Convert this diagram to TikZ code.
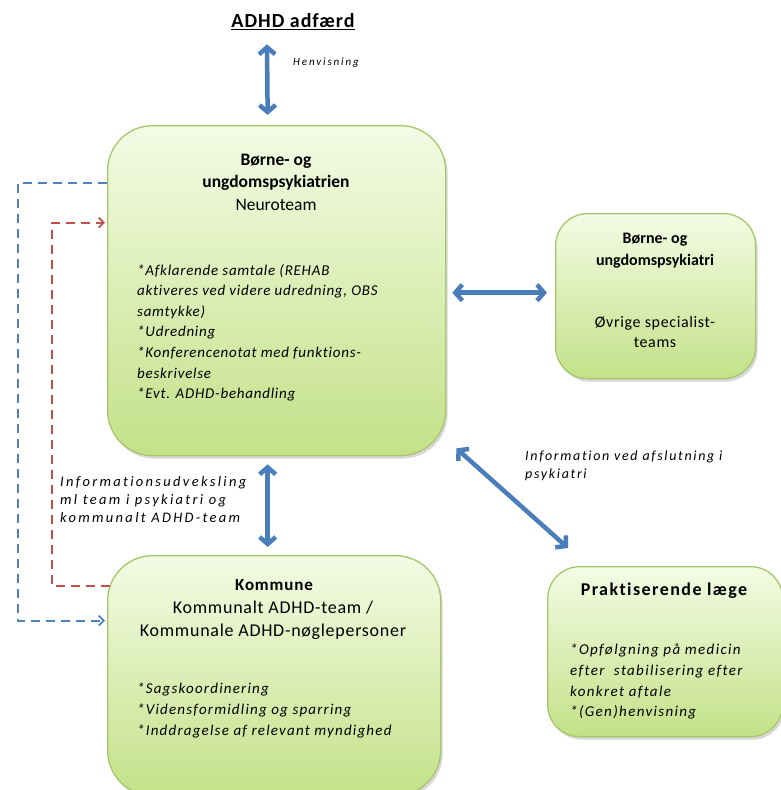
\documentclass[tikz,border=0pt]{standalone}
\usepackage{fontspec}
\setmainfont{Carlito}[Ligatures=NoCommon]
\usetikzlibrary{arrows.meta,shadows}
\definecolor{boxtop}{HTML}{F4FBE4}
\definecolor{boxbot}{HTML}{C3E188}
\definecolor{boxedge}{HTML}{A6C76C}
\definecolor{arrblue}{HTML}{4A7EBB}
\definecolor{dblue}{HTML}{4F81BD}
\definecolor{dred}{HTML}{C0504D}
\tikzset{
  greenbox/.style={draw=boxedge, line width=1.3pt, top color=boxtop, bottom color=boxbot,
    inner sep=0pt, anchor=north west,
    drop shadow={shadow xshift=2pt, shadow yshift=-3pt, opacity=0.25, fill=black!60}},
  head/.style={font=\fontsize{17}{22.5}\selectfont\bfseries, align=center, inner sep=0pt},
  sub/.style={font=\fontsize{17}{22.5}\selectfont, align=center, inner sep=0pt},
  bullets/.style={font=\itshape\fontsize{15}{20.6}\selectfont\addfontfeatures{LetterSpace=#1}, align=left, inner sep=0pt, anchor=north west},
  lbl/.style={font=\itshape\fontsize{14}{18}\selectfont\addfontfeatures{LetterSpace=#1}, align=left, inner sep=0pt, anchor=north west},
  biarrow/.style={draw=arrblue, line width=4.5pt,
    {Straight Barb[length=7pt,width=16pt]}-{Straight Barb[length=7pt,width=16pt]}},
  dashblue/.style={draw=dblue, line width=1.8pt, dash pattern=on 9pt off 6pt,
    -{Straight Barb[length=5pt,width=10pt]}},
  dashred/.style={draw=dred, line width=1.8pt, dash pattern=on 9pt off 6pt,
    -{Straight Barb[length=5pt,width=10pt]}},
}
\begin{document}
\begin{tikzpicture}[x=1pt,y=-1pt]
\fill[white] (0,0) rectangle (780,790);
\useasboundingbox (0,0) rectangle (780,790);

% title
\node[font=\fontsize{20}{22}\selectfont\bfseries\addfontfeatures{LetterSpace=5}, inner sep=0pt] (title) at (293,22) {\underline{ADHD adfærd}};

% boxes
\node[greenbox, rounded corners=45pt, minimum width=338pt, minimum height=330pt] (neuro) at (107,125) {};
\node[greenbox, rounded corners=32pt, minimum width=200pt, minimum height=165pt] (ovr) at (555,213) {};
\node[greenbox, rounded corners=45pt, minimum width=333pt, minimum height=240pt] (komm) at (107,555) {};
\node[greenbox, rounded corners=32pt, minimum width=235pt, minimum height=170pt] (prakt) at (547,566) {};

% neuroteam text
\node[head, font=\fontsize{17.5}{22.5}\selectfont\bfseries] (neuroH) at (276,182) {Børne- og\\ungdomspsykiatrien\\{\mdseries Neuroteam}};
\node[bullets=5] (neuroB) at (137,264) {*Afklarende samtale (REHAB\\aktiveres ved videre udredning, OBS\\samtykke)\\*Udredning\\*Konferencenotat med funktions-\\beskrivelse\\*Evt. ADHD-behandling};

% right box text
\node[head, font=\fontsize{16}{22}\selectfont\bfseries] (ovrH) at (655,251) {Børne- og\\ungdomspsykiatri};
\node[sub, font=\fontsize{16}{20.5}\selectfont\addfontfeatures{LetterSpace=4}] (ovrS) at (655,332) {Øvrige specialist-\\teams};

% kommune text
\node[head, font=\fontsize{17}{22.5}\selectfont\bfseries\addfontfeatures{LetterSpace=5}] (kommH) at (274,585) {Kommune};
\node[sub, font=\fontsize{18}{23}\selectfont\addfontfeatures{LetterSpace=4}] (kommS) at (273,620.5) {Kommunalt ADHD-team /\\Kommunale ADHD-nøglepersoner};
\node[bullets=8] (kommB) at (137,683) {*Sagskoordinering\\*Vidensformidling og sparring\\*Inddragelse af relevant myndighed};

% praktiserende text
\node[head, font=\fontsize{18}{22.5}\selectfont\bfseries\addfontfeatures{LetterSpace=8}] (praktH) at (664,591) {Praktiserende læge};
\node[bullets=9] (praktB) at (570,644) {*Opfølgning på medicin\\efter\ \ stabilisering efter\\konkret aftale\\*(Gen)henvisning};

% labels
\node[lbl=17, font=\itshape\fontsize{11}{18}\selectfont\addfontfeatures{LetterSpace=17}] (henv) at (293,58) {Henvisning};
\node[lbl=12] (infoR) at (525,451) {Information ved afslutning i\\psykiatri};
\node[lbl=17, font=\itshape\fontsize{14.5}{18}\selectfont\addfontfeatures{LetterSpace=16}] (infoL) at (60,476) {Informationsudveksling\\ml team i psykiatri og\\kommunalt ADHD-team};

% arrows
\draw[biarrow] ([xshift=-26pt,yshift=-14pt]title.south) -- ([xshift=-9pt,yshift=10pt]neuro.north);
\draw[biarrow] ([xshift=6pt,yshift=-2pt]neuro.east) -- ([xshift=-8pt,yshift=3.5pt]ovr.west);
\draw[biarrow] ([xshift=-9pt,yshift=-8pt]neuro.south) -- ([xshift=-6.5pt,yshift=8pt]komm.north);
\draw[biarrow] ([xshift=10pt,yshift=8pt]neuro.south east) -- ([xshift=21pt,yshift=18pt]prakt.north west);

% dashed connectors
\draw[dashblue] ([yshift=108pt]neuro.west) -- ++(-89,0) |- ([xshift=-2pt,yshift=55pt]komm.west);
\draw[dashred] ([xshift=3pt,yshift=90pt]komm.west) -- ++(-58,0) |- ([xshift=-2pt,yshift=68pt]neuro.west);
\end{tikzpicture}
\end{document}
